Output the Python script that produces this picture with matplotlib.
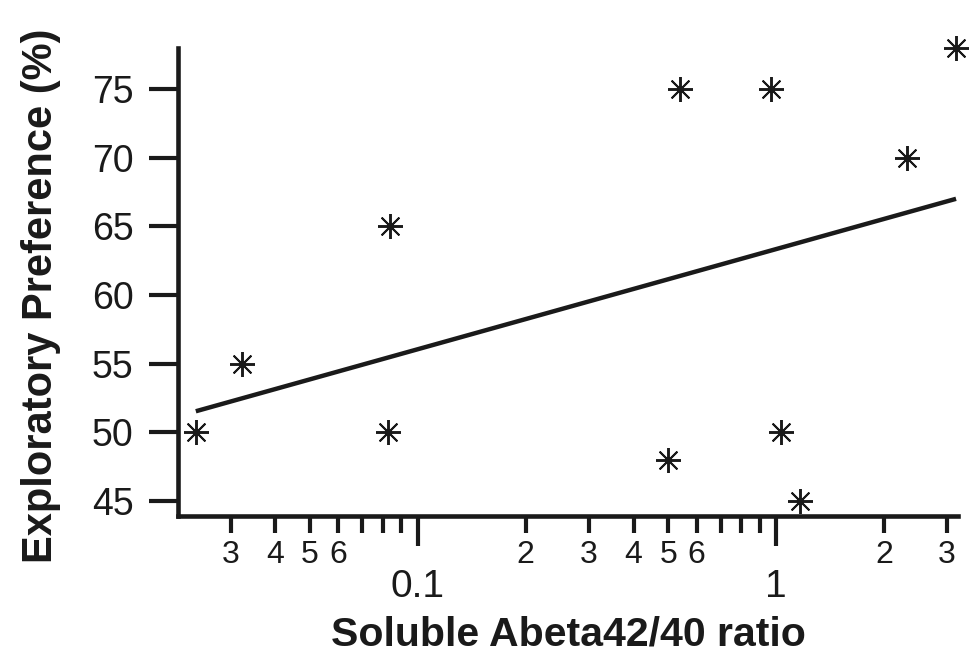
import numpy as np
import matplotlib
matplotlib.use("Agg")
import matplotlib.pyplot as plt
from matplotlib.ticker import FixedLocator, FixedFormatter

# Data
ratio = [0.024, 0.0322, 0.0835, 0.0826, 0.499, 0.539, 0.968, 1.03, 1.17, 2.32, 3.18]
preference = [50, 55, 65, 50, 48, 75, 75, 50, 45, 70, 78]

y_ticks = [45, 50, 55, 60, 65, 70, 75]
x_major = [0.1, 1]
x_major_labels = ["0.1", "1"]
x_minor = [0.03, 0.04, 0.05, 0.06, 0.07, 0.08, 0.09,
           0.2, 0.3, 0.4, 0.5, 0.6, 0.7, 0.8, 0.9, 2, 3]
x_minor_labels = ["3", "4", "5", "6", "", "", "",
                  "2", "3", "4", "5", "6", "", "", "", "2", "3"]

plt.rcParams['font.family'] = ['Liberation Sans', 'DejaVu Sans']

ink = '#1a1a1a'
fig = plt.figure(figsize=(9.71, 6.66), dpi=100)
ax = fig.add_axes([0.1833, 0.2252, 0.8033, 0.7028])

# scatter points: 8-arm asterisk
ax.plot(ratio, preference, linestyle='none', marker=(8, 2, 0), markersize=18,
        markeredgewidth=1.4, color=ink, clip_on=False, zorder=3)

# least-squares fit on log10(x)
lx = np.log10(ratio)
slope, intercept = np.polyfit(lx, preference, 1)
xf = np.array([min(ratio), max(ratio)])
ax.plot(xf, slope * np.log10(xf) + intercept, color=ink, lw=3.2,
        solid_capstyle='butt', clip_on=False, zorder=2)

ax.set_xscale('log')
ax.set_xlim(0.0214, 3.22)
ax.set_ylim(43.9, 78.0)

ax.xaxis.set_major_locator(FixedLocator(x_major))
ax.xaxis.set_major_formatter(FixedFormatter(x_major_labels))
ax.xaxis.set_minor_locator(FixedLocator(x_minor))
ax.xaxis.set_minor_formatter(FixedFormatter(x_minor_labels))
ax.set_yticks(y_ticks)
ax.set_yticklabels([str(v) for v in y_ticks])

for s in ['top', 'right']:
    ax.spines[s].set_visible(False)
for s in ['left', 'bottom']:
    ax.spines[s].set_linewidth(3.3)
    ax.spines[s].set_color(ink)

ax.tick_params(axis='y', which='major', length=21, width=3.0, pad=11,
               labelsize=27, color=ink, labelcolor=ink)
ax.tick_params(axis='x', which='major', length=21.5, width=3.0, pad=17,
               labelsize=28, color=ink, labelcolor=ink)
ax.tick_params(axis='x', which='minor', length=12, width=3.0, pad=5,
               labelsize=23, color=ink, labelcolor=ink)

ax.set_xlabel('Soluble Abeta42/40 ratio', fontsize=29.5, fontweight='bold',
              color=ink, labelpad=7)
ax.set_ylabel('Exploratory Preference (%)', fontsize=30, fontweight='bold',
              color=ink, labelpad=10)
ax.yaxis.set_label_coords(-0.15, 0.47)

fig.savefig('out.png', dpi=100)
